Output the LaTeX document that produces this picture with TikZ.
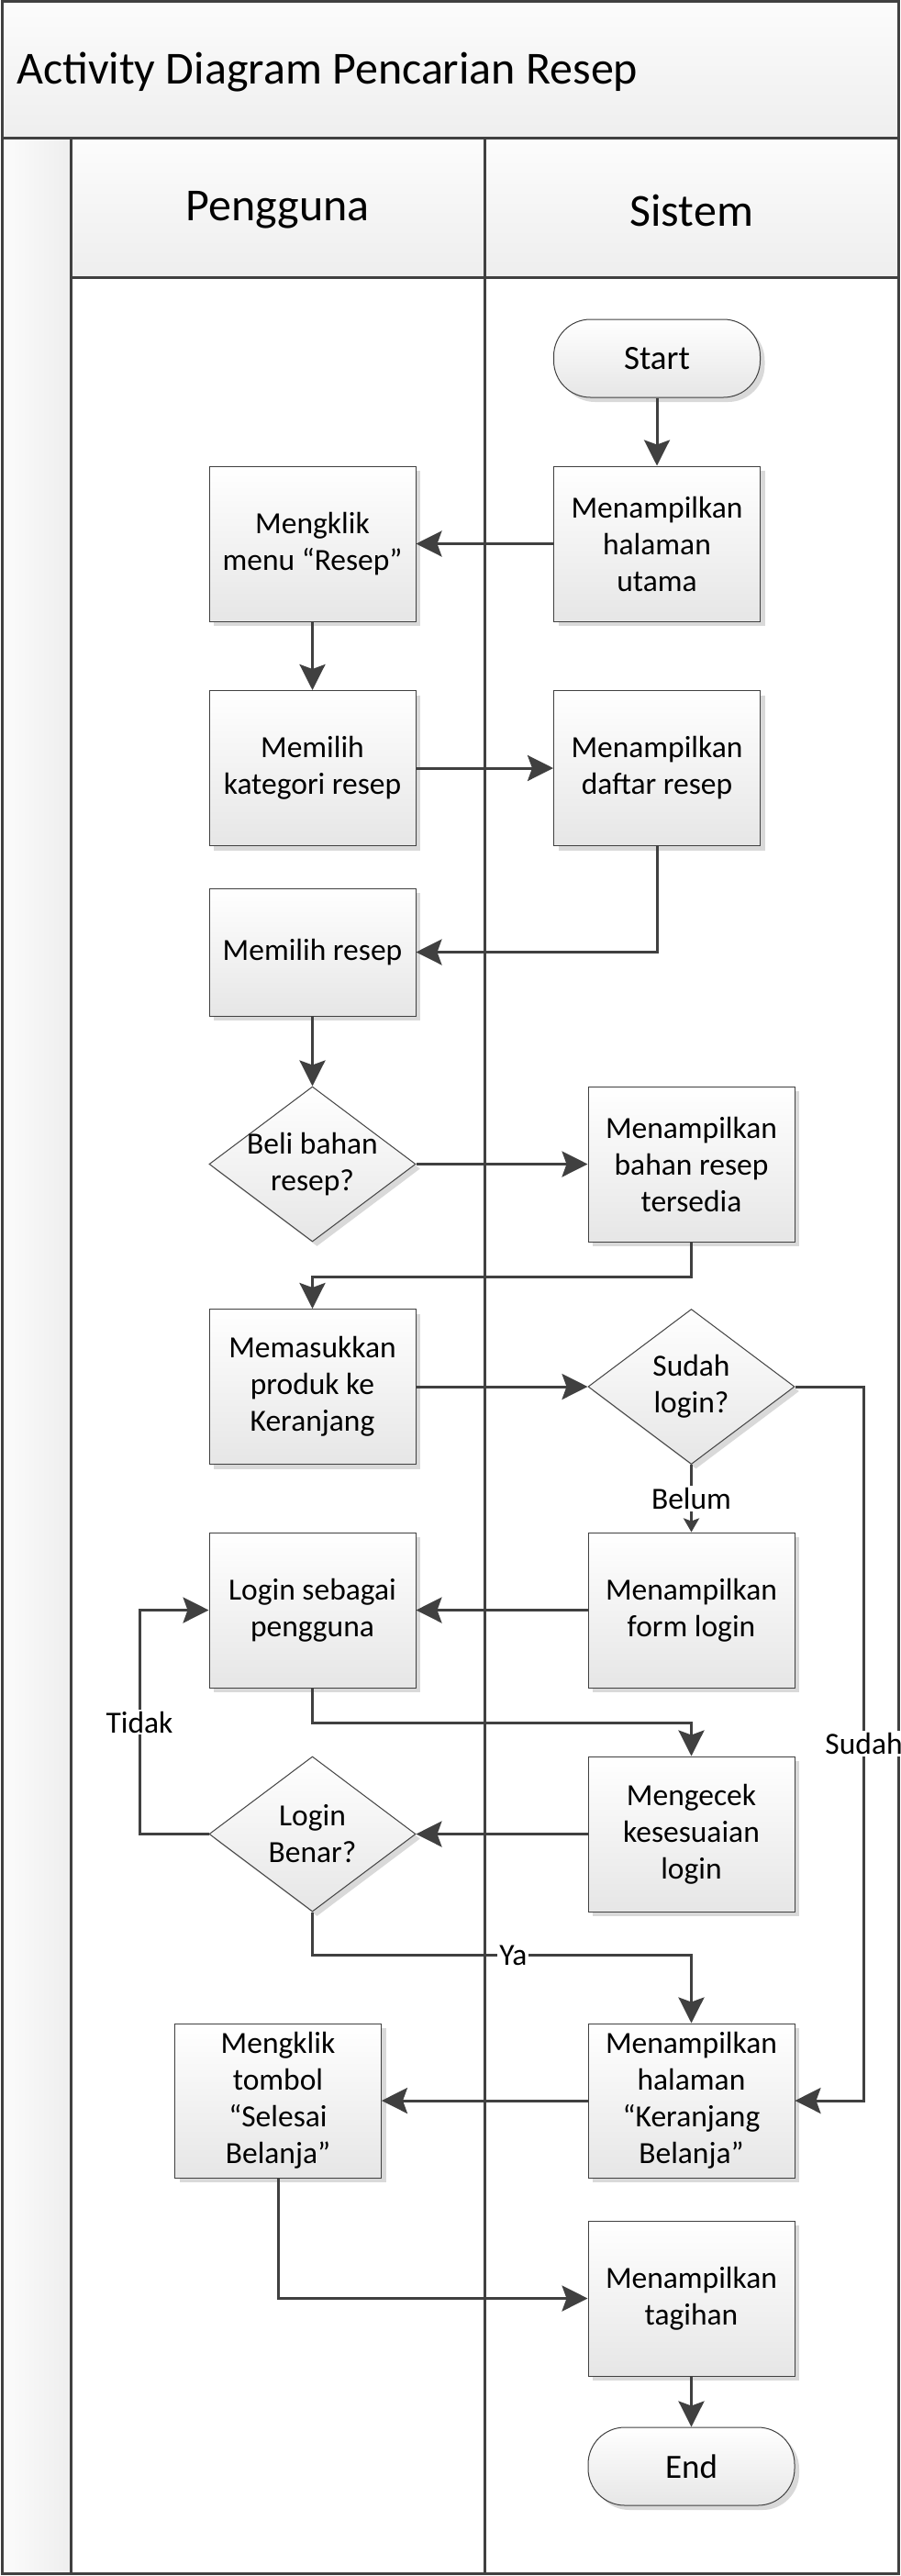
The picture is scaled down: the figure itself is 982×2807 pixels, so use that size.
\documentclass[tikz,border=0pt]{standalone}
\usepackage{fontspec}
\setmainfont{Carlito}
\usetikzlibrary{arrows.meta,shapes.geometric,shadows}
\definecolor{lc}{HTML}{404040}
\definecolor{shc}{HTML}{D9D9D9}
\definecolor{gf}{HTML}{E6E6E6}
\definecolor{bandtop}{HTML}{FCFCFC}
\definecolor{bandbot}{HTML}{EEEEEE}
\newcommand\actfont{\fontsize{33.5pt}{40pt}\selectfont}
\newcommand\termfont{\fontsize{37pt}{44pt}\selectfont}
\newcommand\hdfont{\fontsize{50pt}{60pt}\selectfont}
\tikzset{
  laneline/.style={draw=lc, line width=3pt},
  shad/.style={drop shadow={shadow xshift=5pt, shadow yshift=-5pt, fill=shc, opacity=1}},
  act/.style={rectangle, draw=lc, line width=1pt, top color=white, bottom color=gf,
    minimum width=225pt, minimum height=169pt, inner sep=0pt, align=center, font=\actfont, shad},
  term/.style={rectangle, rounded corners=40pt, draw=lc, line width=1pt, top color=white, bottom color=gf,
    minimum width=225pt, minimum height=85pt, inner sep=0pt, align=center, font=\termfont, shad},
  dia/.style={diamond, draw=lc, line width=1pt, top color=white, bottom color=gf,
    minimum width=225pt, minimum height=169pt, inner sep=0pt, shad},
  diatxt/.style={align=center, font=\actfont, inner sep=0pt},
  conn/.style={draw=lc, line width=3pt, -{Stealth[length=28pt,width=28pt,inset=5pt]}},
  connsmall/.style={draw=lc, line width=3pt, -{Stealth[length=15pt,width=17pt,inset=3pt]}},
  lbl/.style={fill=white, inner sep=2pt, font=\actfont},
}
\begin{document}
\begin{tikzpicture}[x=1pt,y=-1pt]
\useasboundingbox (0,0) rectangle (982,2807);
% backgrounds
\shade[top color=bandtop, bottom color=bandbot] (2,2) rectangle (979,151);
\shade[top color=bandtop, bottom color=bandbot] (77,151) rectangle (979,302);
\shade[left color=bandtop, right color=bandbot] (2,151) rectangle (77,2804);
% lane lines
\draw[laneline] (2,2) rectangle (979,2804);
\draw[laneline] (2,151) -- (979,151);
\draw[laneline] (77,151) -- (77,2804);
\draw[laneline] (77,302) -- (979,302);
\draw[laneline] (528.6,151) -- (528.6,2804);
% titles
\node[anchor=west, font=\hdfont, inner sep=0pt] (title) at (18,79) {Activity Diagram Pencarian Resep};
\node[font=\hdfont, inner sep=0pt] (hp) at (302.8,229) {Pengguna};
\node[font=\hdfont, inner sep=0pt] (hs) at (753.8,229) {Sistem};
% nodes
\node[term] (start) at (716,390.5) {Start};
\node[act] (hu) at (716,592.5) {Menampilkan\\halaman\\utama};
\node[act] (mm) at (340.5,592.5) {Mengklik\\menu “Resep”};
\node[act] (mk) at (340.5,837) {Memilih\\kategori resep};
\node[act] (dr) at (716,837) {Menampilkan\\daftar resep};
\node[act, minimum height=139pt] (mr) at (340.5,1037.5) {Memilih resep};
\node[dia] (db) at (340.5,1268.5) {};
\node[diatxt] (dbt) at (db) {Beli bahan\\resep?};
\node[act] (br) at (753.5,1268.5) {Menampilkan\\bahan resep\\tersedia};
\node[act] (mp) at (340.5,1511) {Memasukkan\\produk ke\\Keranjang};
\node[dia] (ds) at (753.5,1511) {};
\node[diatxt] (dst) at (ds) {Sudah\\login?};
\node[act] (fl) at (753.5,1754.5) {Menampilkan\\form login};
\node[act] (ls) at (340.5,1754.5) {Login sebagai\\pengguna};
\node[act] (mc) at (753.5,1998.5) {Mengecek\\kesesuaian\\login};
\node[dia] (dl) at (340.5,1998.5) {};
\node[diatxt] (dlt) at (dl) {Login\\Benar?};
\node[act, minimum height=168pt] (kb) at (753.5,2289) {Menampilkan\\halaman\\“Keranjang\\Belanja”};
\node[act, minimum height=168pt] (st) at (303,2289) {Mengklik\\tombol\\“Selesai\\Belanja”};
\node[act] (tg) at (753.5,2504.5) {Menampilkan\\tagihan};
\node[term] (end) at (753.5,2687.5) {End};
% helper coordinates
\coordinate (c1) at (753.5,1391);
\coordinate (c2) at (941.6,1511);
\coordinate (c3) at (941.6,2289);
\coordinate (c4) at (753.5,1877);
\coordinate (c5) at (152,1998.5);
\coordinate (c6) at (152,1754.5);
\coordinate (c7) at (340.5,2130.6);
\coordinate (c8) at (753.5,2130.6);
% connectors
\draw[conn] (start.south) -- (hu.north);
\draw[conn] (hu.west) -- (mm.east);
\draw[conn] (mm.south) -- (mk.north);
\draw[conn] (mk.east) -- (dr.west);
\draw[conn] (dr.south) |- (mr.east);
\draw[conn] (mr.south) -- (db.north);
\draw[conn] (db.east) -- (br.west);
\draw[conn] (br.south) -- (c1) -| (mp.north);
\draw[conn] (mp.east) -- (ds.west);
\draw[conn] (ds.east) -- (c2) -- node[lbl] {Sudah} (c3) -- (kb.east);
\draw[connsmall] (ds.south) -- node[lbl] {Belum} (fl.north);
\draw[conn] (fl.west) -- (ls.east);
\draw[conn] (ls.south) |- (c4) -- (mc.north);
\draw[conn] (mc.west) -- (dl.east);
\draw[conn] (dl.west) -- (c5) -- node[lbl] {Tidak} (c6) -- (ls.west);
\draw[conn] (dl.south) -- (c7) -- node[lbl, pos=0.53] {Ya} (c8) -- (kb.north);
\draw[conn] (kb.west) -- (st.east);
\draw[conn] (st.south) |- (tg.west);
\draw[conn] (tg.south) -- (end.north);
\end{tikzpicture}
\end{document}
